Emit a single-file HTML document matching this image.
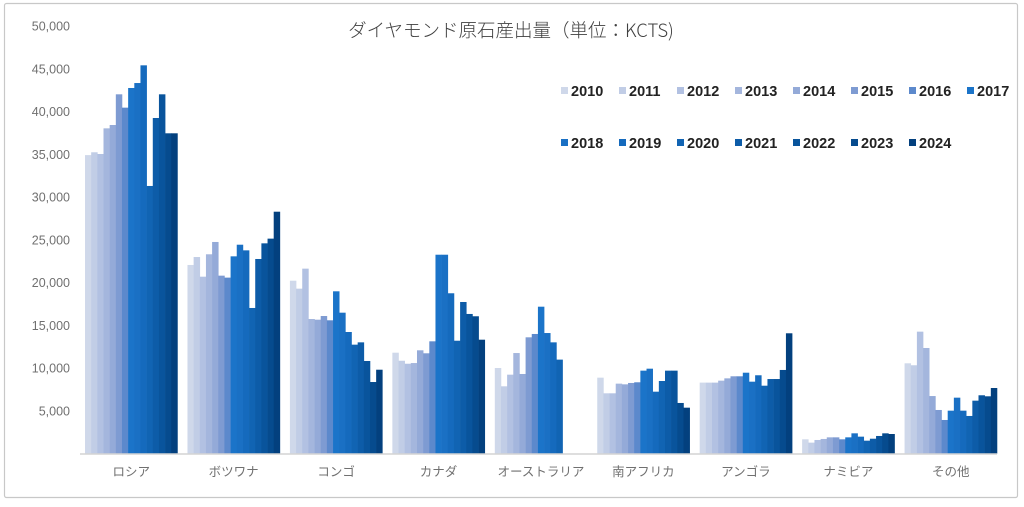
<!DOCTYPE html>
<html><head><meta charset="utf-8"><style>
html,body{margin:0;padding:0;background:#fff;}
body{width:1024px;height:502px;overflow:hidden;}
svg text{font-family:"Liberation Sans","Noto Sans CJK JP",sans-serif;}
</style></head><body>
<svg id="chart" width="1024" height="502" xmlns="http://www.w3.org/2000/svg">
<rect x="4.5" y="3.5" width="1013" height="494" fill="#fff" stroke="#c8c8c8" stroke-width="1.2" rx="2"/>
<text x="511" y="37" text-anchor="middle" font-size="18.5" fill="#404040" style="font-family:'Noto Sans CJK JP',sans-serif;font-weight:300">ダイヤモンド原石産出量（単位：KCTS)</text>
<g id="yaxis"></g><g id="bars"></g><g id="xaxis"></g><g id="legend"></g>
</svg>
<script>
const categories=["ロシア","ボツワナ","コンゴ","カナダ","オーストラリア","南アフリカ","アンゴラ","ナミビア","その他"];
const years=["2010","2011","2012","2013","2014","2015","2016","2017","2018","2019","2020","2021","2022","2023","2024"];
const russia=[34900,35230,35030,38030,38420,42010,40450,42750,43330,45400,31290,39240,42010,37450,37450];
const botswana=[22050,22980,20680,23300,24740,20800,20570,23060,24420,23760,17020,22750,24580,25130,28280];
const congo=[20210,19280,21620,15730,15650,16080,15580,18970,16470,14210,12730,13000,10820,8360,9800];
const canada=[11790,10850,10500,10580,12070,11720,13120,23250,23250,18740,13190,17720,16320,16050,13310];
const australia=[10000,7860,9220,11750,9300,13590,13980,17170,14090,13000,10980,null,null,null,null];
const southAfrica=[8870,7040,7040,8170,8090,8250,8330,9690,9920,7230,8480,9690,9690,5910,5360];
const angola=[8290,8290,8290,8520,8790,9030,9030,9450,8400,9150,7930,8710,8710,9770,14060];
const namibia=[1660,1270,1580,1700,1890,1890,1660,1890,2360,1970,1500,1730,2050,2360,2280];
const others=[10550,10320,14250,12340,6720,5090,3920,5010,6530,5010,4390,6180,6810,6690,7660];
const yTicks=[5000,10000,15000,20000,25000,30000,35000,40000,45000,50000];
const yTickLabels=["5,000","10,000","15,000","20,000","25,000","30,000","35,000","40,000","45,000","50,000"];
const groups=[russia,botswana,congo,canada,australia,southAfrica,angola,namibia,others];
const colors=["#cfd8ea","#c1cde6","#b2c1e2","#a4b6dd","#94aad8","#7e9bd2","#5c89cc","#1b74c9","#1a70c4","#156abd","#1164b3","#0d5ca8","#09549c","#064b8e","#03407e"];
const NS="http://www.w3.org/2000/svg";
const plotL=80,plotR=1002,base=453.5,top0=26,maxV=50000;
const y=v=>base-(v/maxV)*(base-top0);
const catW=(plotR-plotL)/categories.length;
const barW=6.16, groupPad=(catW-barW*years.length)/2;
const x=(ci,si)=>plotL+ci*catW+groupPad+si*barW;
function mk(tag,attrs,parent){const e=document.createElementNS(NS,tag);for(const k in attrs)e.setAttribute(k,attrs[k]);parent.appendChild(e);return e;}
const gy=document.getElementById('yaxis');
yTicks.forEach((t,i)=>{const e=mk('text',{x:70,y:y(t)+4.5,'text-anchor':'end','font-size':12.5,fill:'#707070'},gy);


e.textContent=yTickLabels[i];});
const gb=document.getElementById('bars');
groups.forEach((g,ci)=>{g.forEach((v,si)=>{if(v==null)return;
const r=mk('rect',{x:x(ci,si),y:y(v),width:barW+0.3,height:base-y(v),fill:colors[si]},gb);

});});
const gx=document.getElementById('xaxis');
const ax=mk('line',{x1:plotL,x2:997,y1:base+0.5,y2:base+0.5,stroke:'#d4d4d4','stroke-width':1.5},gx);


categories.forEach((c,ci)=>{const e=mk('text',{x:plotL+ci*catW+catW/2,y:476,'text-anchor':'middle','font-size':12.5,fill:'#707070'},gx);


e.textContent=c;});
const gl=document.getElementById('legend');
years.forEach((yr,i)=>{const row=i<8?0:1,col=i<8?i:i-8;const lx=565+col*58,ly=row?143:91;
const it=mk('g',{},gl);


mk('rect',{x:lx-4,y:ly-4,width:7,height:7,fill:colors[i]},it);
const t=mk('text',{x:lx+6,y:ly+5,'font-size':14.5,'font-weight':'bold',fill:'#222'},it);
t.textContent=yr;});
</script>
</body></html>
